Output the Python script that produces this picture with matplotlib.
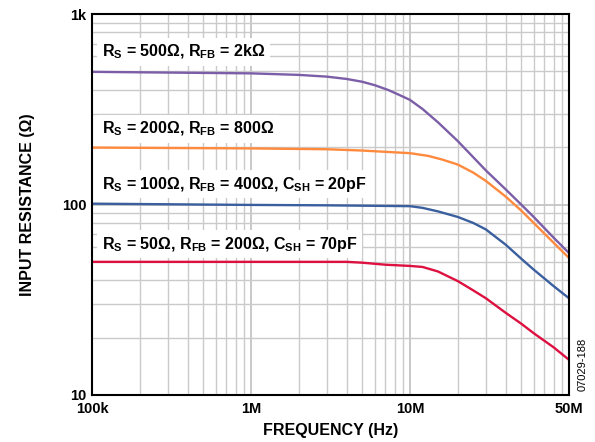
import matplotlib
matplotlib.use("Agg")
import matplotlib.pyplot as plt

plt.rcParams['font.family'] = ['Liberation Sans', 'DejaVu Sans']
plt.rcParams['mathtext.fontset'] = 'custom'
plt.rcParams['mathtext.rm'] = 'Liberation Sans:bold'
plt.rcParams['mathtext.it'] = 'Liberation Sans:bold'
plt.rcParams['mathtext.bf'] = 'Liberation Sans:bold'

# Data (frequency in Hz, resistance in ohms)
f_500 = [1e5, 1e6, 2e6, 3e6, 4e6, 5e6, 6e6, 7.3e6, 8.5e6, 1e7, 1.2e7, 1.5e7, 2e7, 3e7, 4e7, 5e7, 6e7, 8e7, 1e8]
r_500 = [497, 488, 479, 469, 456, 441, 423, 399, 377, 354, 317, 270, 215, 151, 120, 100, 86, 67, 55.6]

f_200 = [1e5, 1e6, 3e6, 5e6, 7e6, 1e7, 1.3e7, 1.6e7, 2e7, 2.5e7, 3e7, 4e7, 5e7, 6e7, 8e7, 1e8]
r_200 = [199, 197, 195, 192, 189, 186, 180, 172, 162, 147, 133, 110, 93, 80, 63, 52.4]

f_100 = [1e5, 1e6, 3e6, 1e7, 1.2e7, 1.5e7, 2e7, 2.5e7, 3e7, 4e7, 5e7, 6e7, 8e7, 1e8]
r_100 = [101, 99.5, 99, 98, 96, 92, 86, 80, 74, 61.5, 52, 45.5, 37.3, 32.2]

f_50 = [1e5, 1e6, 4e6, 5e6, 7e6, 1e7, 1.2e7, 1.5e7, 2e7, 2.5e7, 3e7, 4e7, 5e7, 6e7, 8e7, 1e8]
r_50 = [50, 50, 50, 49.5, 48.3, 47.6, 47, 44.5, 39.6, 35.4, 32.2, 27, 23.7, 21.1, 17.8, 15.3]

labels = [
    r'R$_\mathrm{S}$ = 500Ω, R$_\mathrm{FB}$ = 2kΩ',
    r'R$_\mathrm{S}$ = 200Ω, R$_\mathrm{FB}$ = 800Ω',
    r'R$_\mathrm{S}$ = 100Ω, R$_\mathrm{FB}$ = 400Ω, C$_\mathrm{SH}$ = 20pF',
    r'R$_\mathrm{S}$ = 50Ω, R$_\mathrm{FB}$ = 200Ω, C$_\mathrm{SH}$ = 70pF',
]
label_y = [632, 249, 128, 62]

xticks = [1e5, 1e6, 1e7, 1e8]
xticklabels = ['100k', '1M', '10M', '50M']
yticks = [10, 100, 1000]
yticklabels = ['10', '100', '1k']

colors = ['#7b5ea7', '#ff8a3d', '#3a5f9e', '#dd1040']

fig = plt.figure(figsize=(5.95, 4.42), dpi=100)
ax = fig.add_axes([92/595, 1 - 395/442, (569-92)/595, (395-14)/442])
ax.set_xscale('log')
ax.set_yscale('log')
ax.set_xlim(1e5, 1e8)
ax.set_ylim(10, 1000)

ax.grid(True, which='minor', color='#cacaca', linewidth=1.0, zorder=0)
ax.grid(True, which='major', color='#c4c4c4', linewidth=1.3, zorder=0)
ax.set_axisbelow(True)

for f, r, c in zip([f_500, f_200, f_100, f_50], [r_500, r_200, r_100, r_50], colors):
    ax.plot(f, r, color=c, linewidth=1.7, zorder=3)

for lab, yv in zip(labels, label_y):
    ax.text(1.15e5, yv, lab, fontsize=11.5, fontweight='bold', va='center', ha='left',
            zorder=2, bbox=dict(boxstyle='square,pad=0.3', facecolor='white', edgecolor='none'))

ax.set_xticks(xticks)
ax.set_xticklabels(xticklabels)
ax.set_yticks(yticks)
ax.set_yticklabels(yticklabels)
ax.tick_params(which='both', length=0, labelsize=10.5)
ax.tick_params(axis='x', pad=5)
ax.tick_params(axis='y', pad=4)
for t in ax.get_xticklabels() + ax.get_yticklabels():
    t.set_fontweight('bold')

for s in ax.spines.values():
    s.set_linewidth(1.5)
    s.set_color('black')
    s.set_zorder(5)

ax.set_xlabel('FREQUENCY (Hz)', fontsize=11.5, fontweight='bold')
ax.xaxis.label.set_va('center')
ax.xaxis.set_label_coords(0.5, (395 - 431) / 381)
ax.set_ylabel('INPUT RESISTANCE (Ω)', fontsize=11.5, fontweight='bold')
ax.yaxis.label.set_va('center')
ax.yaxis.set_label_coords((28 - 92) / 477, 0.5)

fig.text(583/595, 1 - 364/442, '07029-188', rotation=90, fontsize=8, ha='center', va='center')

fig.savefig('out.png', dpi=100)
